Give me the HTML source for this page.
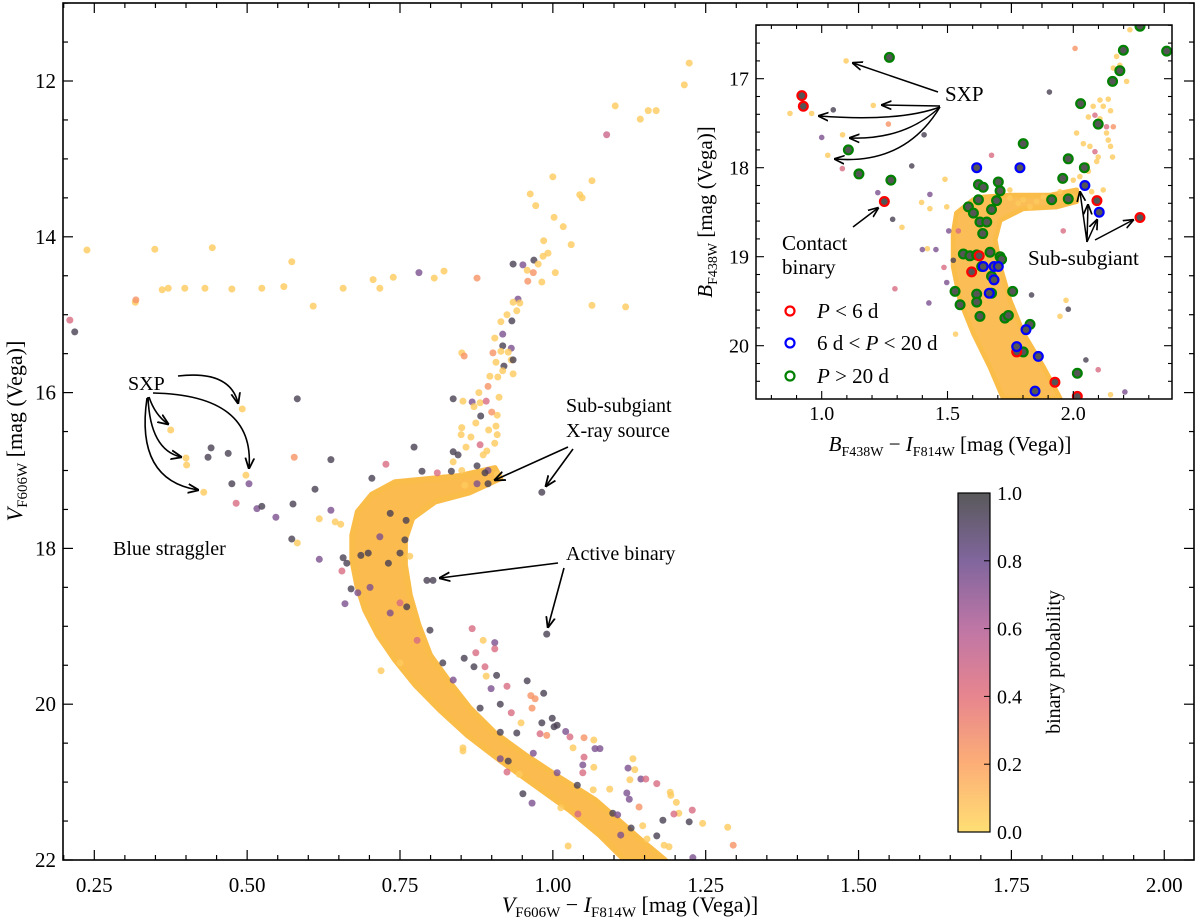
<!DOCTYPE html>
<html><head><meta charset="utf-8"><style>
body{margin:0;background:#fff}
svg{display:block;font-family:"Liberation Serif",serif}
</style></head><body>
<svg id="chart" width="1200" height="922" viewBox="0 0 1200 922" xmlns="http://www.w3.org/2000/svg">
<defs>
<clipPath id="mainClip"><rect x="63" y="3" width="1131" height="857"/></clipPath>
<clipPath id="insetClip"><rect x="756" y="25" width="416" height="374"/></clipPath>
<linearGradient id="cbGrad" x1="0" y1="1" x2="0" y2="0">
<stop offset="0" stop-color="#fed95c"/><stop offset="0.2" stop-color="#fca05e"/>
<stop offset="0.4" stop-color="#e3707b"/><stop offset="0.6" stop-color="#b35e96"/>
<stop offset="0.8" stop-color="#6a4b8c"/><stop offset="1" stop-color="#3c3c3e"/>
</linearGradient>
</defs>
<g id="mainLayer"></g>
<g id="insetLayer"></g>
<g id="annot"></g>
</svg>
<script>
// ---------- main CMD data ----------
const mainColor = [0.210,0.218,0.238,0.317,0.318,0.349,0.361,0.371,0.398,0.431,0.443,0.475,0.524,0.560,0.573,0.608,0.657,0.706,0.717,0.739,0.781,0.806,0.822,0.876,
1.223,1.215,1.102,1.143,1.156,1.169,1.088,1.000,1.064,0.963,0.972,1.044,1.048,1.002,1.017,0.985,1.030,0.992,0.984,0.969,0.935,0.951,0.958,0.968,0.976,1.004,0.959,0.982,1.064,1.119,
0.943,0.935,0.946,0.941,0.925,0.933,0.915,0.918,0.905,0.932,0.918,0.915,0.927,0.902,0.932,0.935,0.907,0.920,0.918,0.935,0.897,0.910,0.851,0.855,0.879,0.894,0.912,0.837,0.853,0.868,0.881,0.891,0.871,0.882,0.909,0.900,0.874,0.895,0.907,0.851,0.866,0.850,0.909,0.881,0.858,0.892,0.773,0.905,0.837,0.845,0.886,0.876,0.837,0.786,0.811,0.834,0.851,0.894,0.889,0.909,0.894,0.876,0.856,0.982,
0.492,0.582,0.375,0.441,0.436,0.469,0.400,0.401,0.577,0.637,0.498,0.475,0.503,0.429,0.704,0.611,0.482,0.516,0.524,0.575,0.547,0.637,0.618,0.644,0.653,0.573,0.582,0.727,
0.618,0.657,0.663,0.655,0.670,0.660,0.681,0.794,0.804,0.990,0.758,0.766,0.750,0.760,
0.868,0.886,0.905,0.905,0.855,0.874,0.871,0.889,0.908,0.891,0.958,0.985,0.925,0.899,0.914,0.964,0.971,0.932,0.966,0.948,0.982,0.999,1.007,1.002,1.021,1.028,0.979,0.990,1.051,1.067,1.069,1.077,1.033,1.051,1.067,1.049,1.049,1.131,1.123,1.134,1.144,1.152,1.170,1.126,1.192,1.193,1.202,1.228,1.206,1.198,1.180,1.223,1.245,1.286,1.295,1.170,1.154,1.182,1.190,1.229,1.121,1.125,1.111,1.128,1.147,1.141,1.025,1.093,1.066,
0.719,0.750,0.853,0.853,0.951,0.966,0.925,0.945,1.013,1.041,0.914,0.927,
0.698,0.731,0.734,0.686,0.717,0.761,0.799,0.820,0.837,0.881,0.914,0.941,0.968,1.007,1.040,1.098,1.106,0.701,0.750,0.778,0.734];
const mainMag = [15.07,15.22,14.17,14.84,14.81,14.16,14.68,14.66,14.66,14.66,14.14,14.67,14.66,14.64,14.32,14.89,14.66,14.55,14.66,14.52,14.46,14.53,14.44,14.53,
11.77,12.05,12.32,12.49,12.38,12.38,12.69,13.23,13.28,13.45,13.60,13.46,13.50,13.75,13.87,14.05,14.10,14.21,14.25,14.30,14.35,14.36,14.43,14.46,14.35,14.46,14.57,14.58,14.88,14.90,
14.80,14.84,14.85,14.95,15.00,15.08,15.09,15.25,15.30,15.43,15.40,15.47,15.48,15.49,15.58,15.58,15.61,15.66,15.72,15.76,15.79,15.80,15.49,15.53,16.00,15.92,16.06,16.08,16.11,16.12,16.13,16.11,16.18,16.30,16.29,16.25,16.39,16.48,16.43,16.45,16.57,16.54,16.54,16.67,16.70,16.75,16.70,16.65,16.76,16.80,16.80,16.94,16.89,17.01,17.03,17.01,17.00,17.00,17.03,17.05,17.17,17.17,17.19,17.28,
16.21,16.08,16.48,16.71,16.83,16.78,16.84,16.93,16.83,16.86,17.06,17.17,17.17,17.28,17.10,17.24,17.42,17.49,17.46,17.43,17.60,17.51,17.62,17.66,17.69,17.88,17.93,16.92,
18.14,18.12,18.19,18.29,18.52,18.71,18.57,18.41,18.41,19.10,17.89,18.10,18.06,17.64,
19.03,19.18,19.21,19.29,19.41,19.34,19.52,19.52,19.63,19.64,19.70,19.86,19.77,19.80,20.00,19.89,19.93,20.11,20.05,20.24,20.24,20.18,20.27,20.29,20.35,20.42,20.38,20.40,20.43,20.46,20.57,20.57,20.56,20.68,20.81,20.78,20.88,20.70,20.82,20.84,20.96,20.96,21.02,20.97,21.13,21.17,21.26,21.36,21.40,21.41,21.49,21.51,21.53,21.58,21.81,21.69,21.73,21.81,21.83,21.97,21.14,21.22,21.68,21.59,21.56,21.32,21.82,21.09,21.10,
19.57,19.47,20.56,20.60,21.15,21.27,20.87,20.90,21.33,21.41,20.70,20.73,
18.06,18.19,17.55,18.09,17.85,18.75,19.05,19.47,19.69,20.05,20.36,20.37,20.63,20.88,21.04,21.40,21.42,18.50,18.70,19.18,18.83];
const mainProb = [.45,.95,.05,.05,.25,.05,.05,.05,.05,.05,.05,.05,.05,.05,.05,.05,.05,.05,.05,.05,.75,.05,.05,.25,
.05,.05,.05,.05,.05,.05,.5,.05,.05,.05,.05,.05,.05,.05,.05,.05,.05,.05,.05,.95,.95,.75,.05,.25,.05,.05,.25,.05,.05,.05,
.75,.05,.05,.05,.05,.95,.05,.75,.05,.75,.95,.05,.05,.25,.05,.95,.05,.95,.05,.05,.05,.05,.05,.25,.05,.25,.05,.95,.05,.75,.05,.45,.05,.95,.05,.25,.05,.05,.05,.05,.05,.05,.05,.45,.05,.05,.95,.05,.95,.95,.05,.95,.05,.95,.45,.95,.05,.75,.95,.05,.95,.75,.05,.95,
.05,.95,.05,.95,.95,.95,.05,.05,.25,.95,.05,.95,.75,.05,.95,.95,.45,.75,.95,.95,.75,.75,.05,.05,.05,.95,.05,.45,
.75,.95,.95,.45,.95,.75,.75,.95,.95,.95,.95,.05,.95,.95,
.45,.05,.75,.45,.95,.45,.95,.45,.95,.05,.95,.95,.45,.75,.95,.25,.25,.45,.25,.05,.95,.95,.95,.95,.75,.45,.45,.25,.25,.05,.75,.75,.05,.45,.05,.75,.45,.05,.75,.05,.75,.45,.45,.05,.05,.05,.05,.45,.05,.45,.95,.95,.05,.05,.25,.95,.05,.05,.05,.75,.75,.75,.75,.95,.05,.25,.05,.05,.05,
.05,.05,.05,.05,.95,.75,.45,.05,.05,.45,.75,.95,
.95,.95,.95,.95,.75,.95,.95,.95,.75,.95,.95,.95,.75,.75,.95,.95,.75,.75,.45,.45,.75];
// dense main-sequence / sub-giant ridge (polygon vertices in data units)
const bandColor = [0.742,0.704,0.681,0.672,0.672,0.680,0.693,0.714,0.742,0.775,0.815,0.861,0.914,0.971,1.028,1.077,1.118,1.183,1.143,1.107,1.069,1.012,0.954,0.905,0.864,0.832,0.799,0.780,0.766,0.758,0.758,0.770,0.807,0.864,0.914,0.905,0.848,0.783];
const bandMag = [17.15,17.31,17.53,17.83,18.15,18.47,18.79,19.11,19.43,19.75,20.07,20.40,20.72,21.04,21.36,21.68,22.00,22.00,21.74,21.49,21.23,20.95,20.65,20.37,20.05,19.73,19.37,18.98,18.60,18.21,17.89,17.61,17.40,17.28,17.10,16.97,17.07,17.12];
const xTicks = [0.25,0.50,0.75,1.00,1.25,1.50,1.75,2.00];
const yTicks = [12,14,16,18,20,22];
// ---------- inset data ----------
const inC = [1.097,0.874,0.960,1.046,1.205,1.265,1.083,1.000,1.024,1.082,1.407,1.358,1.490,1.223,1.282,1.319,1.905,2.007,1.675,1.430,1.397,1.430,1.497,1.505,1.543,1.420,1.400,1.454,1.523,1.486,1.497,1.291,1.426,1.532,1.960,1.971,1.980,1.834,2.050,2.099,2.148,2.205,1.947,
2.172,2.159,2.185,2.212,2.139,2.148,2.079,2.119,2.060,2.106,2.013,2.040,2.066,2.099,2.148,2.156,2.093,2.060,2.026,2.119,2.000,2.000,1.947,1.881,1.854,1.801,1.781,1.748,1.828,1.748,2.139,2.132,2.106,2.053,2.073,2.225,2.086,2.132,2.159,2.086];
const inM = [16.80,17.39,17.39,17.35,17.30,17.51,17.63,17.66,17.86,18.01,17.63,17.98,18.13,18.28,18.58,18.67,17.15,16.66,17.86,18.30,18.39,18.46,18.44,18.71,18.71,18.91,18.92,18.92,19.04,19.12,19.29,19.36,19.52,19.87,18.71,19.49,19.59,19.43,20.16,20.27,20.55,20.52,19.67,
16.75,16.88,16.85,17.03,17.23,17.36,17.31,17.31,17.43,17.45,17.61,17.73,17.76,17.88,17.76,17.88,17.93,18.04,18.10,18.25,18.14,18.33,18.27,18.33,18.38,18.36,18.40,18.34,18.44,18.25,17.69,17.61,17.24,17.97,18.27,16.45,17.41,17.54,17.54,17.82];
const inP = [.05,.05,.05,.95,.05,.25,.05,.75,.05,.45,.95,.95,.05,.75,.95,.05,.95,.25,.45,.75,.05,.05,.05,.75,.45,.05,.75,.75,.95,.45,.75,.45,.75,.05,.45,.05,.95,.95,.95,.45,.05,.75,.05,
.05,.05,.05,.05,.05,.05,.05,.05,.05,.05,.05,.05,.05,.05,.05,.05,.05,.05,.05,.05,.05,.05,.05,.05,.05,.05,.05,.05,.05,.05,.05,.05,.05,.05,.05,.05,.45,.45,.25,.45];
const inBandC = [1.603,1.536,1.523,1.523,1.550,1.603,1.669,1.722,1.947,1.881,1.801,1.748,1.709,1.689,1.709,1.801,1.934,2.013,2.013,1.907,1.748,1.642];
const inBandM = [18.36,18.51,18.74,19.11,19.49,19.86,20.24,20.59,20.59,20.24,19.86,19.49,19.11,18.81,18.59,18.46,18.44,18.38,18.25,18.31,18.31,18.33];
const longC = [1.269,1.106,1.148,1.275,1.801,1.980,2.044,2.029,2.099,1.958,1.914,1.980,2.156,2.185,2.199,2.265,2.371,1.623,1.642,1.702,1.709,1.695,1.623,1.583,1.675,1.603,1.629,1.656,1.640,1.563,1.589,1.616,1.669,1.709,1.715,1.636,1.675,1.530,1.616,1.759,1.550,1.616,1.629,1.728,1.742,1.828,1.801,2.016,1.675];
const longM = [16.76,17.80,18.07,18.14,17.73,17.90,18.00,17.28,17.51,18.12,18.36,18.35,17.03,16.91,16.68,16.41,16.69,18.19,18.22,18.16,18.26,18.37,18.36,18.44,18.47,18.51,18.61,18.61,18.74,18.97,18.99,18.98,18.95,19.00,19.03,19.11,19.22,19.39,19.42,19.39,19.54,19.51,19.67,19.69,19.66,19.76,20.07,20.31,19.41];
const shortC = [0.921,0.927,1.249,2.094,2.265,1.596,1.626,1.775,1.927,2.016];
const shortM = [17.19,17.31,18.38,18.37,18.56,19.17,18.99,20.07,20.41,20.57];
const midC = [1.616,1.788,2.046,2.103,1.642,1.685,1.685,1.702,1.666,1.812,1.775,1.861,1.848];
const midM = [18.00,18.00,18.20,18.50,19.11,19.11,19.26,19.11,19.41,19.82,20.01,20.12,20.51];
const inXTicks = [1.0,1.5,2.0];
const inYTicks = [17,18,19,20];
const cbTicks = [0.0,0.2,0.4,0.6,0.8,1.0];

// ---------- helpers ----------
const NS='http://www.w3.org/2000/svg';
function mk(tag, attrs, parent){const e=document.createElementNS(NS,tag);for(const k in attrs)e.setAttribute(k,attrs[k]);parent.appendChild(e);return e;}
const X=c=>94.3+(c-0.25)*611.4;
const Y=m=>860-(22-m)*77.9;
const IX=c=>821.7+(c-1.0)*251.6;
const IY=m=>78.7+(m-17)*89;
const stops=[[0,[254,217,92]],[0.2,[252,160,94]],[0.4,[227,112,123]],[0.6,[179,94,150]],[0.8,[106,75,140]],[1,[60,60,62]]];
function cmap(p){for(let i=1;i<stops.length;i++){if(p<=stops[i][0]){const a=stops[i-1],b=stops[i],t=(p-a[0])/(b[0]-a[0]);return 'rgb('+a[1].map((v,k)=>Math.round(v+(b[1][k]-v)*t)).join(',')+')';}}return 'rgb(60,60,62)';}

const main=document.getElementById('mainLayer');
const inset=document.getElementById('insetLayer');
const ann=document.getElementById('annot');

// main data group
const mg=mk('g',{'clip-path':'url(#mainClip)'},main);


const band=mk('polygon',{points:bandColor.map((c,i)=>X(c)+','+Y(bandMag[i])).join(' '),fill:'#fbb540','fill-opacity':'0.92',stroke:'#fbbd4a','stroke-width':'6','stroke-linejoin':'round'},mg);


mainColor.forEach((c,i)=>{
  const d=mk('circle',{cx:X(c),cy:Y(mainMag[i]),r:3.5,fill:cmap(mainProb[i]),'fill-opacity':0.8},mg);
  
  
});

// main frame + ticks
const frame=mk('rect',{x:63,y:3,width:1131,height:857,fill:'none',stroke:'#000','stroke-width':1.6},main);


for(let v=0.2;v<=2.05;v+=0.05){const x=X(v);if(x<63||x>1194)continue;const major=xTicks.some(t=>Math.abs(t-v)<1e-6);const L=major?10:5;
 mk('line',{x1:x,y1:860,x2:x,y2:860-L,stroke:'#000','stroke-width':1.2},main);mk('line',{x1:x,y1:3,x2:x,y2:3+L,stroke:'#000','stroke-width':1.2},main);}
xTicks.forEach(t=>{const e=mk('text',{x:X(t),y:892,'text-anchor':'middle','font-size':21},main);e.textContent=t.toFixed(2);
 
 });
for(let m=11;m<=22;m+=0.5){const y=Y(m);if(y<3)continue;const major=yTicks.includes(m);const L=major?10:5;
 mk('line',{x1:63,y1:y,x2:63+L,y2:y,stroke:'#000','stroke-width':1.2},main);mk('line',{x1:1194,y1:y,x2:1194-L,y2:y,stroke:'#000','stroke-width':1.2},main);}
yTicks.forEach(t=>{const e=mk('text',{x:56,y:Y(t)+7,'text-anchor':'end','font-size':21},main);e.textContent=t;
 
 });

// ---------- inset ----------
const ibg=mk('rect',{x:756,y:25,width:416,height:374,fill:'#fff'},inset);


const ig=mk('g',{'clip-path':'url(#insetClip)'},inset);


const iband=mk('polygon',{points:inBandC.map((c,i)=>IX(c)+','+IY(inBandM[i])).join(' '),fill:'#fbb540','fill-opacity':'0.88',stroke:'#fbbd4a','stroke-width':'5','stroke-linejoin':'round'},ig);


inC.forEach((c,i)=>{
  const d=mk('circle',{cx:IX(c),cy:IY(inM[i]),r:2.8,fill:cmap(inP[i]),'fill-opacity':0.8},ig);
  
  
});
function rings(cs,ms,col,name){cs.forEach((c,i)=>{
  const r=mk('circle',{cx:IX(c),cy:IY(ms[i]),r:4.4,fill:'#555',stroke:col,'stroke-width':2.2},ig);
  
  
});}
rings(longC,longM,'#008000','variable-long-period');
rings(shortC,shortM,'#ff0000','variable-short-period');
rings(midC,midM,'#0000ff','variable-mid-period');
const iframe=mk('rect',{x:756,y:25,width:416,height:374,fill:'none',stroke:'#000','stroke-width':1.5},inset);


for(let v=0.8;v<=2.35;v+=0.1){const x=IX(v);if(x<756||x>1172)continue;const major=inXTicks.some(t=>Math.abs(t-v)<1e-6);const L=major?8:4;
 mk('line',{x1:x,y1:399,x2:x,y2:399-L,stroke:'#000','stroke-width':1.1},inset);mk('line',{x1:x,y1:25,x2:x,y2:25+L,stroke:'#000','stroke-width':1.1},inset);}
inXTicks.forEach(t=>{const e=mk('text',{x:IX(t),y:420,'text-anchor':'middle','font-size':20},inset);e.textContent=t.toFixed(1);
 
 });
for(let m=16.4;m<=20.6;m+=0.2){const y=IY(m);if(y<25||y>399)continue;const major=inYTicks.some(t=>Math.abs(t-m)<1e-6);const L=major?8:4;
 mk('line',{x1:756,y1:y,x2:756+L,y2:y,stroke:'#000','stroke-width':1.1},inset);mk('line',{x1:1172,y1:y,x2:1172-L,y2:y,stroke:'#000','stroke-width':1.1},inset);}
inYTicks.forEach(t=>{const e=mk('text',{x:749,y:IY(t)+7,'text-anchor':'end','font-size':20},inset);e.textContent=t;
 
 });

// ---------- colorbar ----------
const cb=mk('rect',{x:958,y:493,width:32,height:339,fill:'url(#cbGrad)','fill-opacity':0.85,stroke:'#000','stroke-width':1.2},ann);


cbTicks.forEach(t=>{const y=832-t*339;mk('line',{x1:990,y1:y,x2:984,y2:y,stroke:'#000','stroke-width':1},ann);
 const e=mk('text',{x:997,y:y+7,'font-size':20},ann);e.textContent=t.toFixed(1);
 
 });
</script>
<script>
// static text & arrows
const A=document.getElementById('annot');
A.insertAdjacentHTML('beforeend',`
<defs><marker id="ah" viewBox="0 0 10 10" refX="9" refY="5" markerWidth="7" markerHeight="7" orient="auto-start-reverse"><path d="M0,1 L10,5 L0,9" fill="none" stroke="#000" stroke-width="1.6"/></marker></defs>
<text transform="translate(1060,662) rotate(-90)" text-anchor="middle" font-size="20">binary probability</text>
<text transform="translate(22,431) rotate(-90)" text-anchor="middle" font-size="22"><tspan font-style="italic">V</tspan><tspan font-size="15" dy="5">F606W</tspan><tspan dy="-5"> [mag (Vega)]</tspan></text>
<text x="630" y="912" text-anchor="middle" font-size="22"><tspan font-style="italic">V</tspan><tspan font-size="15" dy="5">F606W</tspan><tspan dy="-5"> − </tspan><tspan font-style="italic">I</tspan><tspan font-size="15" dy="5">F814W</tspan><tspan dy="-5"> [mag (Vega)]</tspan></text>
<text transform="translate(712,212) rotate(-90)" text-anchor="middle" font-size="21"><tspan font-style="italic">B</tspan><tspan font-size="14" dy="5">F438W</tspan><tspan dy="-5"> [mag (Vega)]</tspan></text>
<text x="950" y="451" text-anchor="middle" font-size="21"><tspan font-style="italic">B</tspan><tspan font-size="14" dy="5">F438W</tspan><tspan dy="-5"> − </tspan><tspan font-style="italic">I</tspan><tspan font-size="14" dy="5">F814W</tspan><tspan dy="-5"> [mag (Vega)]</tspan></text>
<g font-size="20" fill="#000">
<text x="128" y="390">SXP</text>
<text x="113" y="555">Blue straggler</text>
<text x="566" y="412">Sub-subgiant</text>
<text x="566" y="437">X-ray source</text>
<text x="566" y="560">Active binary</text>
</g>
<g fill="none" stroke="#000" stroke-width="1.6" marker-end="url(#ah)">
<path d="M178,376 Q230,370 238,403"/>
<path d="M153,393 Q255,395 249,468"/>
<path d="M149,397 Q155,415 168,424"/>
<path d="M148,397 Q150,450 181,457"/>
<path d="M147,398 Q135,480 198,490"/>
<path d="M568,447 L495,480"/>
<path d="M573,449 L546,486"/>
<path d="M558,563 L440,578"/>
<path d="M564,568 L548,627"/>
</g>
<g font-size="21" fill="#000">
<text x="945" y="101">SXP</text>
<text x="782" y="250">Contact</text>
<text x="782" y="274">binary</text>
<text x="1028" y="265">Sub-subgiant</text>
<text x="817" y="318"><tspan font-style="italic">P</tspan> &lt; 6 d</text>
<text x="817" y="350">6 d &lt; <tspan font-style="italic">P</tspan> &lt; 20 d</text>
<text x="817" y="383"><tspan font-style="italic">P</tspan> &gt; 20 d</text>
</g>
<g fill="none" stroke-width="2.2">
<circle cx="790" cy="311" r="4.5" stroke="#ff0000"/>
<circle cx="790" cy="343" r="4.5" stroke="#0000ff"/>
<circle cx="790" cy="376" r="4.5" stroke="#008000"/>
</g>
<g fill="none" stroke="#000" stroke-width="1.5" marker-end="url(#ah)">
<path d="M938,92 L853,63"/>
<path d="M940,106 L882,105"/>
<path d="M940,107 Q900,122 819,116"/>
<path d="M940,107 Q905,140 850,138"/>
<path d="M940,107 Q905,165 835,159"/>
<path d="M853,227 L878,208"/>
<path d="M1087,242 L1080,192"/>
<path d="M1087,242 L1088,205"/>
<path d="M1087,242 L1097,220"/>
<path d="M1095,240 L1133,220"/>
</g>`);
</script>
</body></html>
